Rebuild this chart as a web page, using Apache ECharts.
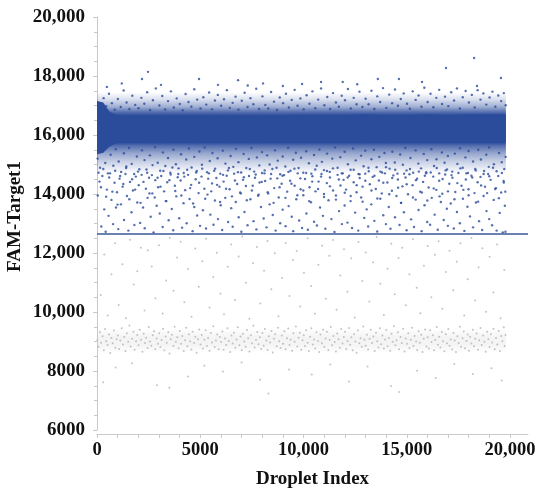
<!DOCTYPE html>
<html>
<head>
<meta charset="utf-8">
<script src="https://cdn.jsdelivr.net/npm/echarts@6/dist/echarts.min.js"></script>
<style>
html,body{margin:0;padding:0;background:#fff;}
#chart{width:550px;height:495px;}
</style>
</head>
<body>
<div id="chart"></div>
<script>
// ---- axis ticks ----
const xTickLabels = [0, 5000, 10000, 15000, 20000];
const xMinorTicks = [0,1000,2000,3000,4000,5000,6000,7000,8000,9000,10000,11000,12000,13000,14000,15000,16000,17000,18000,19000,20000];
const yTickLabels = [6000, 8000, 10000, 12000, 14000, 16000, 18000, 20000];

// ---- threshold ----
const thresholdX = [0, 20870];
const thresholdY = 12640;

// ---- dense positive band ----
const coreX      = [0, 300, 600, 1000, 2000, 3000, 4000, 5000, 6000, 7000, 8000, 9000, 10000, 11000, 12000, 13000, 14000, 15000, 16000, 17000, 18000, 19000, 19800];
const coreTop    = [17150,17100,16800,16650,16620,16650,16620,16620,16650,16620,16650,16650,16680,16680,16680,16700,16680,16680,16700,16680,16700,16700,16700];
const coreBottom = [15350,15400,15600,15750,15750,15770,15750,15770,15770,15750,15770,15770,15770,15790,15790,15790,15770,15790,15790,15790,15790,15770,15770];
const fringeX      = [0, 19800];
const fringeTop    = [17450, 17450];
const fringeBottom = [14700, 14700];
// ---- dense negative band ----
const grayBandX      = [0, 19800];
const grayBandTop    = [9450, 9450];
const grayBandBottom = [8600, 8600];

// ---- positive droplets (blue) ----
const blueLow = [[40,13950],[120,14420],[210,12900],[260,14610],[350,13480],[420,12720],[480,14150],[560,13260],[630,14700],[700,13800],[780,12980],[850,14380],[920,13540],[970,14060],
[1030,12810],[1090,14520],[1160,13650],[1240,14250],[1310,13120],[1380,14680],[1450,13930],[1520,12760],[1600,14410],[1670,13380],[1740,14120],[1810,12950],[1880,14590],[1950,13710],
[2020,14300],[2090,13020],[2160,14650],[2230,13540],[2310,12840],[2370,14180],[2450,13870],[2520,14550],[2600,13230],[2680,14020],[2740,12700],[2820,14470],[2890,13600],[2960,14230],
[3040,13340],[3110,14610],[3180,12880],[3250,14090],[3330,13760],[3400,14400],[3470,13110],[3550,14720],[3620,13490],[3690,12770],[3770,14280],[3840,13920],[3910,14570],[3980,13180],
[4050,14460],[4120,12860],[4190,13690],[4270,14130],[4340,13010],[4410,14650],[4480,13830],[4560,14310],[4630,12740],[4710,13560],[4780,14500],[4850,13270],[4920,14030],[4990,12920],
[5060,14590],[5130,13450],[5200,14180],[5280,12830],[5350,13980],[5420,14700],[5490,13300],[5570,14360],[5640,12960],[5710,13780],[5780,14540],[5860,13150],[5930,14250],[5990,13620],
[6060,12780],[6130,14420],[6210,13870],[6280,14620],[6350,13050],[6420,14160],[6500,13520],[6570,12890],[6640,14690],[6720,13730],[6790,14340],[6860,13210],[6930,14050],[6990,12720],
[7070,14480],[7140,13390],[7210,14270],[7290,12940],[7360,14610],[7430,13820],[7500,14120],[7580,13080],[7650,14550],[7720,12800],[7800,13940],[7870,14390],[7940,13560],[7990,14710],
[8070,13170],[8140,14440],[8210,12870],[8290,14020],[8360,13650],[8430,14680],[8510,13290],[8580,14200],[8650,12760],[8730,14530],[8800,13880],[8870,13010],[8940,14350],[8990,13470],
[9060,14640],[9130,12910],[9210,14080],[9280,13590],[9350,14450],[9430,13230],[9500,12740],[9570,14280],[9650,13820],[9720,14700],[9790,13100],[9860,14160],[9930,12850],[9990,13960],
[10070,14510],[10140,13340],[10210,12790],[10290,14230],[10360,13720],[10430,14600],[10510,13060],[10580,14090],[10650,12930],[10730,14420],[10800,13540],[10870,14680],[10940,13260],[10990,14000],
[11060,12820],[11130,14370],[11210,13790],[11280,14560],[11350,13150],[11430,14120],[11500,12710],[11570,13950],[11650,14650],[11720,13420],[11790,14290],[11860,12980],[11940,14480],[11990,13610],
[12060,14150],[12130,13030],[12210,14620],[12280,13760],[12350,12850],[12430,14400],[12500,13370],[12570,14060],[12650,12760],[12720,14540],[12790,13880],[12860,14250],[12940,13190],[12990,14690],
[13060,13480],[13130,12900],[13210,14330],[13280,13650],[13350,14580],[13430,13090],[13500,14170],[13570,12730],[13650,14460],[13720,13840],[13790,14020],[13860,13280],[13940,14700],[13990,12980],
[14060,14390],[14130,13560],[14210,12820],[14280,14110],[14350,14630],[14430,13210],[14500,13930],[14570,14490],[14650,12950],[14720,13700],[14790,14260],[14860,13380],[14940,14560],[14990,12770],
[15060,13990],[15130,14670],[15210,13140],[15280,14300],[15350,12880],[15430,13810],[15500,14520],[15570,13460],[15650,14080],[15720,12740],[15790,14410],[15860,13620],[15940,14700],[15990,13050],
[16060,14220],[16130,12960],[16210,13870],[16280,14590],[16350,13300],[16430,14140],[16500,12790],[16570,14450],[16650,13730],[16720,14010],[16790,13120],[16860,14660],[16940,13500],[16990,12920],
[17060,14350],[17130,13680],[17210,14550],[17280,12830],[17350,14070],[17430,13390],[17500,14710],[17570,13010],[17650,14280],[17720,13840],[17790,12750],[17860,14490],[17940,13570],[17990,14160],
[18060,13240],[18130,14620],[18210,12870],[18280,14030],[18350,13710],[18430,14400],[18500,13080],[18570,14580],[18650,12780],[18720,13930],[18790,14250],[18860,13420],[18940,14680],[18990,13150],
[19060,14480],[19130,12940],[19210,13800],[19280,14170],[19350,12760],[19430,14610],[19500,13360],[19570,14050],[19650,12700],[19700,14390],[19750,13600],[19780,12720]];

const blueLow2 = [[75,14720],[190,14230],[305,14850],[440,13910],[590,14560],[745,14080],[880,14790],[995,13640],
[1120,14610],[1275,14340],[1410,14880],[1565,13820],[1700,14500],[1845,14150],[1985,14760],
[2110,13700],[2250,14410],[2395,14830],[2540,14020],[2660,14640],[2795,13880],[2935,14550],
[3075,14250],[3215,14780],[3360,13760],[3505,14470],[3650,14900],[3790,14100],[3935,14680],
[4085,13950],[4225,14590],[4365,14820],[4510,14200],[4655,13680],[4800,14730],[4945,14380],
[5095,14860],[5240,13840],[5385,14520],[5530,14090],[5675,14790],[5815,14310],[5960,13730],
[6105,14650],[6250,14180],[6390,14880],[6535,13920],[6680,14460],[6825,14740],[6965,14020],
[7110,14570],[7255,13790],[7400,14850],[7540,14280],[7685,14660],[7830,13980],[7975,14410],
[8120,14800],[8265,14060],[8405,14520],[8550,13700],[8695,14890],[8840,14230],[8985,14620],
[9125,13870],[9270,14750],[9415,14350],[9560,14860],[9700,13960],[9845,14530],[9990,14120],
[10130,14710],[10275,13760],[10420,14420],[10565,14830],[10705,14170],[10850,14590],[10995,13900],
[11135,14780],[11280,14260],[11425,14870],[11570,13810],[11710,14490],[11855,14700],[11995,14040],
[12140,14560],[12285,13930],[12430,14820],[12575,14300],[12715,14670],[12860,13740],[12995,14450],
[13145,14890],[13290,14120],[13435,14620],[13575,13850],[13720,14760],[13865,14380],[13995,14910],
[14150,13990],[14295,14540],[14440,14820],[14580,14210],[14725,13700],[14870,14690],[14995,14330],
[15155,14850],[15300,13880],[15445,14470],[15585,14760],[15730,14050],[15875,14620],[15995,13780],
[16160,14730],[16305,14190],[16450,14880],[16590,13920],[16735,14510],[16880,14800],[16995,14090],
[17165,14640],[17310,13820],[17450,14370],[17595,14870],[17740,14140],[17885,14700],[17995,13960],
[18170,14560],[18315,14850],[18455,13740],[18600,14290],[18745,14780],[18890,14030],[18995,14600],
[19175,14890],[19320,14200],[19460,13860],[19605,14710],[19690,14440],[19770,14080]];

const blueMid = [[30,15200],[150,14890],[280,15450],[400,15050],[530,14700],[660,15330],[790,14960],[910,15520],
[1050,15100],[1170,14750],[1300,15380],[1420,14930],[1550,15560],[1680,15020],[1800,14680],[1930,15270],
[2050,14840],[2180,15480],[2300,15150],[2430,14720],[2560,15310],[2690,14980],[2810,15590],[2940,15060],
[3060,14790],[3190,15410],[3310,14950],[3440,15220],[3570,14660],[3700,15500],[3820,15010],[3950,14870],
[4070,15350],[4200,14710],[4320,15170],[4450,15540],[4580,14900],[4710,15260],[4830,14780],[4960,15440],
[5080,14990],[5210,15580],[5330,14740],[5460,15120],[5590,15390],[5720,14860],[5840,15210],[5970,14690],
[6090,15470],[6220,15030],[6340,14800],[6470,15290],[6600,14920],[6730,15530],[6850,15080],[6980,14730],
[7100,15360],[7230,14880],[7350,15190],[7480,15560],[7610,14760],[7740,15240],[7860,14970],[7990,15420],
[8110,14700],[8240,15310],[8360,15000],[8490,14850],[8620,15480],[8750,15130],[8870,14670],[8990,15270],
[9120,14930],[9250,15570],[9370,14790],[9500,15160],[9630,15400],[9760,14880],[9880,15230],[9990,14720],
[10130,15450],[10260,15040],[10380,14690],[10510,15320],[10640,14960],[10770,15510],[10890,15090],[10990,14810],
[11140,15370],[11270,14750],[11390,15200],[11520,15580],[11650,14890],[11780,15250],[11900,14700],[11990,15430],
[12150,15010],[12280,14820],[12400,15540],[12530,15140],[12660,14680],[12790,15300],[12910,14940],[12990,15470],
[13160,14770],[13290,15180],[13410,15500],[13540,14910],[13670,15260],[13800,14730],[13920,15390],[13990,15050],
[14170,14860],[14300,15430],[14420,15070],[14550,14690],[14680,15340],[14810,14990],[14930,15560],[14990,14800],
[15180,15220],[15310,14720],[15430,15480],[15560,15030],[15690,14870],[15820,15360],[15940,14740],[15990,15150],
[16190,15520],[16320,14950],[16440,15180],[16570,14700],[16700,15410],[16830,15060],[16950,14830],[16990,15290],
[17200,14760],[17330,15370],[17450,15020],[17580,15550],[17710,14890],[17840,15240],[17960,14710],[17990,15460],
[18210,15100],[18340,14800],[18460,15500],[18590,15170],[18720,14680],[18850,15330],[18970,14920],[18990,15580],
[19220,15010],[19350,14770],[19470,15390],[19600,15080],[19720,14850],[19790,15260]];

const blueHigh = [[60,17050],[190,16900],[320,17250],[450,16980],[580,17400],[720,17080],[860,16860],
[1010,17220],[1150,16950],[1290,17510],[1430,17100],[1570,16880],[1710,17330],[1850,17020],
[2010,16910],[2150,17260],[2290,17060],[2430,17450],[2570,16850],[2710,17180],[2850,17580],
[3020,17000],[3160,17320],[3300,16870],[3440,17150],[3580,17480],[3720,16930],[3860,17240],
[4010,17050],[4150,16840],[4290,17390],[4430,17120],[4570,16960],[4710,17550],[4850,17200],
[5010,16900],[5150,17280],[5290,17030],[5430,17440],[5570,16870],[5710,17170],[5850,17360],
[6010,16990],[6150,17210],[6290,17520],[6430,16920],[6570,17090],[6710,17300],[6850,16860],
[7010,17160],[7150,17430],[7290,16950],[7430,17250],[7570,17040],[7710,17570],[7850,16880],
[8010,17310],[8150,17020],[8290,16900],[8430,17460],[8570,17130],[8710,16850],[8850,17270],
[9010,17080],[9150,17400],[9290,16930],[9430,17190],[9570,17530],[9710,16990],[9850,17240],
[10010,16870],[10150,17350],[10290,17060],[10430,17480],[10570,16910],[10710,17200],[10850,17580],
[11010,17010],[11150,17290],[11290,16880],[11430,17420],[11570,17100],[11710,16960],[11850,17330],
[12010,17180],[12150,17560],[12290,16900],[12430,17260],[12570,17040],[12710,17470],[12850,16950],
[13010,17230],[13150,17040],[13290,17500],[13430,16880],[13570,17310],[13710,17120],[13850,17590],
[14010,16920],[14150,17370],[14290,17080],[14430,17540],[14570,16990],[14710,17220],[14850,17410],
[15010,17060],[15150,16890],[15290,17480],[15430,17190],[15570,17340],[15710,16960],[15850,17600],
[16010,17120],[16150,17400],[16290,16940],[16430,17260],[16570,17530],[16710,17050],[16850,17300],
[17010,16980],[17150,17450],[17290,17170],[17430,17580],[17570,16900],[17710,17280],[17850,17490],
[18010,17100],[18150,17360],[18290,16930],[18430,17520],[18570,17200],[18710,17410],[18850,17030],
[19010,17270],[19150,17470],[19290,16960],[19430,17340],[19570,17150],[19700,17420],[19790,17010],
[480,17630],[1200,17750],[2180,17900],[2470,18140],[3100,17700],[4940,17900],[5860,17700],[6830,17860],[7300,17680],[8040,17750],
[9000,17660],[9930,17730],[10850,17800],[11900,17800],[12600,17720],[13600,17900],[14620,17900],[15740,17800],[16900,18270],[18260,18610],[18400,17660],[19560,17930]];

// ---- negative droplets (gray) ----
const grayBand = [[20,9050],[80,8820],[140,9310],[200,8960],[270,9180],[330,8700],[390,9420],[450,9010],[510,8880],[580,9240],[640,8610],[700,9120],[760,8940],[820,9370],[890,8790],[950,9080],
[1010,9200],[1070,8750],[1130,9030],[1200,9450],[1260,8900],[1320,9150],[1380,8680],[1450,9280],[1510,8990],[1570,9540],[1630,8830],[1700,9090],[1760,9330],[1820,8720],[1890,9010],[1950,9220],
[2010,8870],[2070,9400],[2130,9060],[2200,8650],[2260,9260],[2320,8950],[2380,9130],[2450,8780],[2510,9490],[2570,9000],[2630,8860],[2700,9210],[2760,9350],[2820,8740],[2890,9100],[2950,8920],
[3010,9280],[3070,8810],[3130,9050],[3200,9430],[3260,8700],[3320,9170],[3380,8960],[3450,9310],[3510,8590],[3570,9080],[3630,9230],[3700,8850],[3760,9500],[3820,8990],[3890,9140],[3950,8770],
[4010,9360],[4070,8920],[4130,9190],[4200,8680],[4260,9040],[4320,9470],[4380,8840],[4450,9250],[4510,9010],[4570,8730],[4630,9330],[4700,8950],[4760,9160],[4820,8620],[4890,9080],[4950,9410],
[5010,8900],[5070,9220],[5130,8760],[5200,9060],[5260,9380],[5320,8850],[5380,9120],[5450,8690],[5510,9290],[5570,8970],[5630,9520],[5700,8810],[5760,9030],[5820,9240],[5890,8740],[5950,9150],
[6010,8980],[6070,9340],[6130,8720],[6200,9100],[6260,8880],[6320,9450],[6380,9020],[6450,8640],[6510,9200],[6570,8930],[6630,9300],[6700,8790],[6760,9070],[6820,9480],[6890,8870],[6950,9170],
[7010,8700],[7070,9260],[7130,9000],[7200,8820],[7260,9390],[7320,9110],[7380,8660],[7450,9210],[7510,8940],[7570,9530],[7630,8800],[7700,9050],[7760,9320],[7820,8910],[7890,9140],[7950,8750],
[8010,9290],[8070,8860],[8130,9420],[8200,9030],[8260,8710],[8320,9180],[8380,8970],[8450,9360],[8510,8630],[8570,9090],[8630,9250],[8700,8840],[8760,9470],[8820,9010],[8890,8780],[8950,9200],
[9010,8920],[9070,9350],[9130,8740],[9200,9110],[9260,9440],[9320,8880],[9380,9060],[9450,8690],[9510,9280],[9570,8990],[9630,9510],[9700,8830],[9760,9130],[9820,9300],[9890,8720],[9950,9040],
[10010,9210],[10070,8850],[10130,9380],[10200,8960],[10260,8680],[10320,9160],[10380,9450],[10450,8900],[10510,9070],[10570,8760],[10630,9310],[10700,9020],[10760,8640],[10820,9240],[10890,8940],[10950,9400],
[11010,8810],[11070,9100],[11130,9330],[11200,8710],[11260,9050],[11320,9490],[11380,8870],[11450,9190],[11510,8980],[11570,8660],[11630,9270],[11700,9080],[11760,8790],[11820,9420],[11890,8930],[11950,9150],
[12010,9330],[12070,8750],[12130,9020],[12200,9460],[12260,8890],[12320,9140],[12380,8700],[12450,9250],[12510,9000],[12570,8620],[12630,9370],[12700,8940],[12760,9110],[12820,8820],[12890,9510],[12950,9060],
[13010,8860],[13070,9230],[13130,8730],[13200,9090],[13260,9400],[13320,8950],[13380,9170],[13450,8680],[13510,9300],[13570,9010],[13630,8800],[13700,9450],[13760,8910],[13820,9200],[13890,8760],[13950,9070],
[14010,9390],[14070,8840],[14130,9120],[14200,8690],[14260,9260],[14320,8990],[14380,9520],[14450,8870],[14510,9040],[14570,9310],[14630,8740],[14700,9150],[14760,8950],[14820,9430],[14890,8660],[14950,9100],
[15010,8920],[15070,9280],[15130,8780],[15200,9060],[15260,9470],[15320,8850],[15380,9190],[15450,9000],[15510,8710],[15570,9350],[15630,8960],[15700,9230],[15760,8640],[15820,9090],[15890,9410],[15950,8830],
[16010,9140],[16070,8760],[16130,9380],[16200,8980],[16260,9210],[16320,8700],[16380,9050],[16450,9490],[16510,8890],[16570,9160],[16630,8800],[16700,9320],[16760,9010],[16820,8670],[16890,9250],[16950,8940],
[17010,9420],[17070,8860],[17130,9070],[17200,8730],[17260,9290],[17320,9030],[17380,8640],[17450,9180],[17510,8950],[17570,9500],[17630,8820],[17700,9110],[17760,9340],[17820,8770],[17890,9020],[17950,9240],
[18010,8690],[18070,9160],[18130,8930],[18200,9400],[18260,8840],[18320,9090],[18380,9270],[18450,8720],[18510,9040],[18570,9460],[18630,8880],[18700,9200],[18760,8990],[18820,8650],[18890,9330],[18950,9080],
[19010,8810],[19070,9250],[19130,8970],[19200,9430],[19260,8740],[19320,9120],[19380,8900],[19450,9360],[19510,8680],[19570,9190],[19630,9010],[19700,9480],[19740,8850],[19780,9220]];

const grayOut = [[180,10580],[350,11950],[520,9880],[700,11280],[880,12330],[1050,10240],[1230,11620],[1400,9790],[1600,12450],[1780,10930],[1950,11380],[2120,12180],[2300,10050],[2460,12090],[2650,11540],[2830,10470],[3000,12260],[3180,9950],[3350,11070],[3520,12520],
[3700,10720],[3880,11850],[4050,12380],[4230,10330],[4400,11460],[4580,9840],[4760,12150],[4930,10860],[5100,11720],[5280,12480],[5450,10150],[5630,11190],[5800,12010],[5980,10620],[6150,9920],[6330,11530],[6500,12290],[6680,10410],[6860,11880],[7030,12560],
[7210,10990],[7380,9770],[7560,11650],[7740,12200],[7910,10290],[8090,11400],[8260,12410],[8440,10770],[8610,11990],[8790,9860],[8960,11150],[9140,12340],[9320,10540],[9490,11760],[9670,12070],[9840,10190],[10020,11330],[10200,12500],[10370,10880],[10550,9940],
[10720,11600],[10900,12250],[11080,10450],[11250,11910],[11430,12440],[11600,10080],[11780,11240],[11960,12130],[12130,10690],[12310,11820],[12480,9810],[12660,12370],[12840,11050],[13010,12020],[13190,10360],[13370,11690],[13540,12540],[13720,10960],[13890,9900],[14070,11470],
[14250,12310],[14420,10600],[14600,11830],[14780,12180],[14950,10230],[15130,11280],[15300,12470],[15480,10820],[15660,9960],[15830,11570],[16010,12240],[16190,10500],[16360,11940],[16540,12400],[16720,10110],[16890,11360],[17070,12080],[17250,10740],[17420,11700],[17600,12330],
[17780,9880],[17950,11110],[18130,12510],[18310,10390],[18480,11520],[18660,12160],[18840,10010],[19010,11870],[19190,10660],[19370,12290],[19540,9790],[19720,11420],
[300,7620],[900,8120],[1700,8260],[2900,7520],[3500,7430],[4400,7810],[5200,8180],[6100,7980],[7000,8290],[7900,7700],[8300,7240],[9300,8050],[10400,7880],[11300,8220],[12200,7640],[13100,8150],[14240,7490],[14620,7290],[15500,8010],[16400,7760],[17300,8240],[18200,7900],[19100,8090],[19600,7680]];

// ---- styles ----
const BLUE = '#2b4b9b';
const GRAY = '#b4b4b4';
const AXIS = '#c9c9c9';
const FONT = 'Liberation Serif';

function fmt(v){ return v >= 10000 ? v.toLocaleString('en-US') : String(v); }
function rgba(a){ return 'rgba(43,75,155,' + a + ')'; }

// band drawn as a polygon through the chart's own coordinate system
function bandSeries(xs, lo, hi, fill, z){
  return {
    type:'custom', coordinateSystem:'cartesian2d', silent:true, z:z, clip:true,
    data:[[xs[0], lo[0]]],
    renderItem:function(params, api){
      const pts = [];
      for (let i = 0; i < xs.length; i++) pts.push(api.coord([xs[i], hi[i]]));
      for (let i = xs.length - 1; i >= 0; i--) pts.push(api.coord([xs[i], lo[i]]));
      return {type:'polygon', shape:{points:pts}, style:{fill:fill}};
    }
  };
}

const chart = echarts.init(document.getElementById('chart'), null, {renderer:'canvas'});

chart.setOption({
  animation:false,
  backgroundColor:'#fff',
  grid:{left:97, right:22, top:17, bottom:65, containLabel:false, outerBoundsMode:'none'},
  xAxis:{
    type:'value', min:0, max:20870, interval:5000, offset:4,
    name:'Droplet Index', nameLocation:'middle', nameGap:36, nameMoveOverlap:false,
    nameTextStyle:{fontFamily:FONT, fontWeight:'bold', fontSize:19, color:'#111'},
    axisLine:{show:true, lineStyle:{color:AXIS, width:1}},
    axisTick:{show:true, length:4, lineStyle:{color:AXIS}, customValues:xMinorTicks},
    axisLabel:{customValues:xTickLabels, formatter:fmt, margin:7, fontFamily:FONT, fontWeight:'bold', fontSize:18.5, color:'#111'},
    splitLine:{show:false}
  },
  yAxis:{
    type:'value', min:6000, max:20000, interval:2000, offset:5,
    name:'FAM-Target1', nameLocation:'middle', nameGap:67, nameMoveOverlap:false,
    nameTextStyle:{fontFamily:FONT, fontWeight:'bold', fontSize:19, color:'#111', padding:[0,0,0,14]},
    axisLine:{show:true, lineStyle:{color:AXIS, width:1}},
    axisTick:{show:true, length:4, lineStyle:{color:AXIS}},
    minorTick:{show:true, splitNumber:4, length:3, lineStyle:{color:AXIS}},
    axisLabel:{formatter:fmt, margin:7, fontFamily:FONT, fontWeight:'bold', fontSize:19, color:'#111'},
    splitLine:{show:false}
  },
  series:[
    bandSeries(grayBandX, grayBandBottom, grayBandTop, new echarts.graphic.LinearGradient(0,0,0,1,[
        {offset:0, color:'rgba(200,200,200,0)'},{offset:0.35, color:'rgba(200,200,200,0.2)'},
        {offset:0.65, color:'rgba(200,200,200,0.2)'},{offset:1, color:'rgba(200,200,200,0)'}]), 1),
    {type:'scatter', data:grayBand, symbolSize:2, itemStyle:{color:GRAY}, silent:true, z:2},
    {type:'scatter', data:grayOut, symbolSize:2, itemStyle:{color:GRAY}, silent:true, z:2},
    bandSeries(fringeX, fringeBottom, fringeTop, new echarts.graphic.LinearGradient(0,0,0,1,[
        {offset:0, color:rgba(0)},{offset:0.09, color:rgba(0.18)},{offset:0.18, color:rgba(0.45)},
        {offset:0.255, color:rgba(0.85)},{offset:0.29, color:rgba(1)},{offset:0.62, color:rgba(1)},
        {offset:0.66, color:rgba(0.8)},{offset:0.75, color:rgba(0.5)},{offset:0.86, color:rgba(0.25)},{offset:1, color:rgba(0)}]), 3),
    bandSeries(coreX, coreBottom, coreTop, BLUE, 4),
    {type:'scatter', data:blueLow, symbolSize:2.4, itemStyle:{color:BLUE}, silent:true, z:5},
    {type:'scatter', data:blueLow2, symbolSize:2.4, itemStyle:{color:BLUE}, silent:true, z:5},
    {type:'scatter', data:blueMid, symbolSize:2.4, itemStyle:{color:BLUE}, silent:true, z:5},
    {type:'scatter', data:blueHigh, symbolSize:2.4, itemStyle:{color:BLUE}, silent:true, z:5},
    {type:'line', data:thresholdX.map(x=>[x, thresholdY]), symbol:'none', silent:true, z:6,
      lineStyle:{color:'#3a5795', width:1.5}}
  ]
});
</script>
</body>
</html>
